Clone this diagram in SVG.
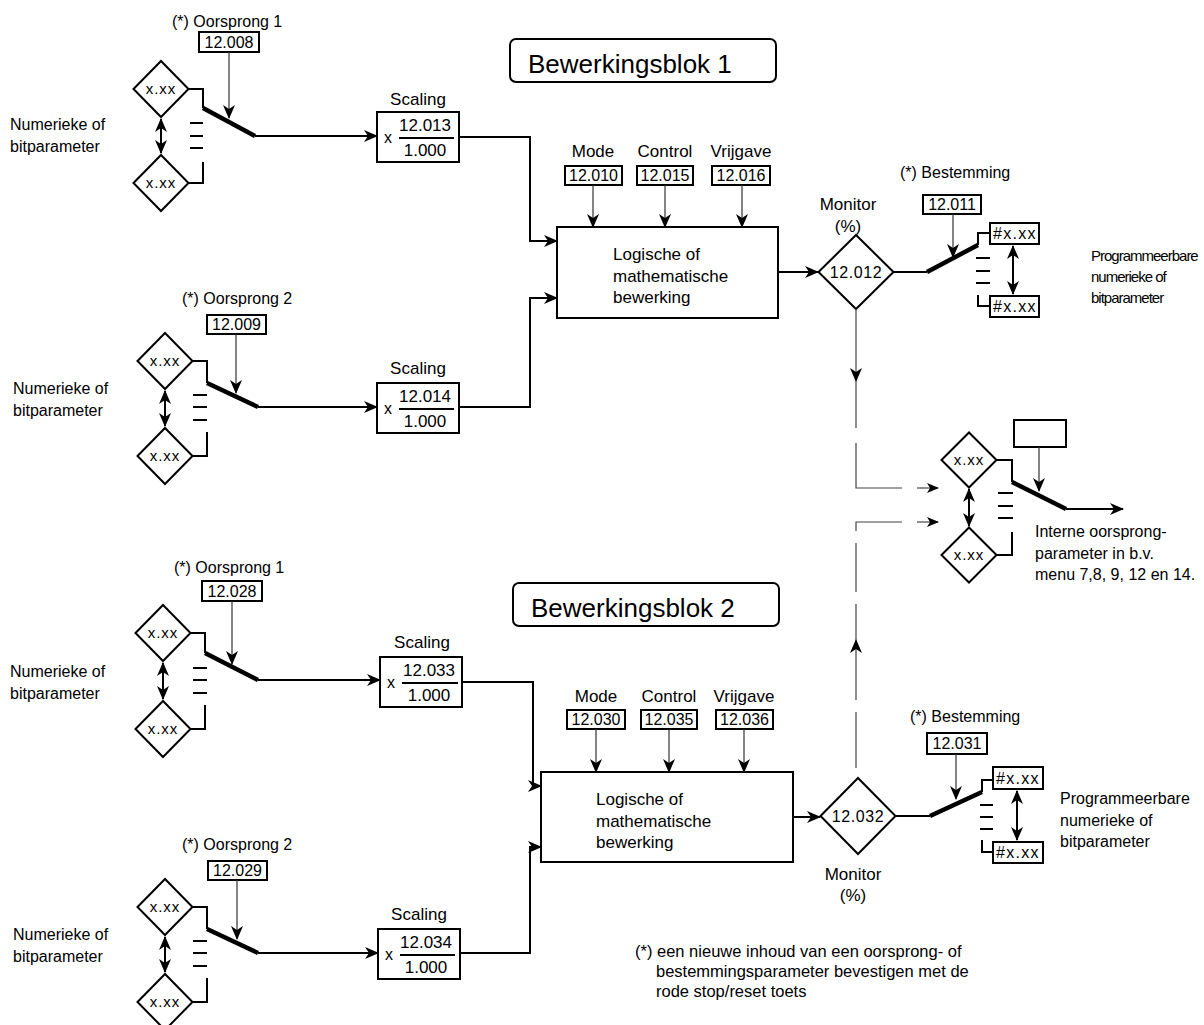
<svg xmlns="http://www.w3.org/2000/svg" width="1204" height="1025" viewBox="0 0 1204 1025">
<style>
.t{font-family:"Liberation Sans",Arial,Helvetica,sans-serif;font-size:16px;fill:#000}
.t17{font-size:17px}
.m{text-anchor:middle}
.dx{letter-spacing:1px}
.cn{font-size:15px;letter-spacing:-1px}
.box{fill:#fff;stroke:#000;stroke-width:2}
.ln{fill:none;stroke:#000;stroke-width:2}
.th{fill:none;stroke:#000;stroke-width:4.5}
.thin{fill:none;stroke:#333;stroke-width:1.2}
.dl{fill:none;stroke:#444;stroke-width:1.2}
</style>
<defs>
<marker id="a" viewBox="0 0 14 12" refX="13" refY="6" markerWidth="14" markerHeight="12" markerUnits="userSpaceOnUse" orient="auto-start-reverse"><path d="M0,0 L14,6 L0,12 L4,6 z" fill="#000"/></marker>
<marker id="b" viewBox="0 0 12 10" refX="11" refY="5" markerWidth="12" markerHeight="10" markerUnits="userSpaceOnUse" orient="auto-start-reverse"><path d="M0,0 L12,5 L0,10 L3,5 z" fill="#000"/></marker>
</defs>

<!-- titles -->
<g id="title1"><rect x="510" y="39" width="266" height="43" rx="6" class="box"/><text x="528" y="73" class="t" style="font-size:26px">Bewerkingsblok 1</text></g>
<g id="title2"><rect x="513" y="583" width="266" height="43" rx="6" class="box"/><text x="531" y="617" class="t" style="font-size:26px">Bewerkingsblok 2</text></g>

<!-- ===== Block 1 input 1 ===== -->
<g id="b1-src1">
<text x="172" y="27" class="t">(*) Oorsprong 1</text>
<rect x="199" y="32" width="60" height="20" class="box"/><text x="229" y="48" class="t m">12.008</text>
<polygon points="133.5,89 161,61 188.5,89 161,117" class="box"/><text x="161" y="94" class="t m dx" style="font-size:15px">x.xx</text>
<polygon points="133.5,183 161,155 188.5,183 161,211" class="box"/><text x="161" y="188" class="t m dx" style="font-size:15px">x.xx</text>
<text x="10" y="130" class="t">Numerieke of</text><text x="10" y="152" class="t">bitparameter</text>
<polyline points="188,89 203,89 203,108" class="ln"/>
<line x1="203" y1="108" x2="255" y2="136" class="th"/>
<polyline points="188,183 203,183 203,162" class="ln"/>
<path d="M190,123H203M190,136H203M190,148H203" class="ln"/>
</g>
<g id="b1-scal1">
<text x="418" y="105" class="t t17 m">Scaling</text>
<rect x="377" y="112" width="82" height="50" class="box"/>
<text x="384" y="143" class="t">x</text>
<text x="425" y="131" class="t t17 m">12.013</text>
<line x1="399" y1="138" x2="454" y2="138" class="ln"/>
<text x="425" y="156" class="t t17 m">1.000</text>
</g>

<!-- ===== Block 1 input 2 ===== -->
<g id="b1-src2">
<text x="182" y="304" class="t">(*) Oorsprong 2</text>
<rect x="207" y="315" width="59" height="19" class="box"/><text x="236.5" y="330" class="t m">12.009</text>
<polygon points="137.5,361 165,333 192.5,361 165,389" class="box"/><text x="165" y="366" class="t m dx" style="font-size:15px">x.xx</text>
<polygon points="137.5,456 165,428 192.5,456 165,484" class="box"/><text x="165" y="461" class="t m dx" style="font-size:15px">x.xx</text>
<text x="13" y="394" class="t">Numerieke of</text><text x="13" y="416" class="t">bitparameter</text>
<polyline points="193,361 207,361 207,383" class="ln"/>
<line x1="207" y1="383" x2="258" y2="407" class="th"/>
<polyline points="193,456 207,456 207,432" class="ln"/>
<path d="M193,395H207M193,407H207M193,420H207" class="ln"/>
</g>
<g id="b1-scal2">
<text x="418" y="374" class="t t17 m">Scaling</text>
<rect x="377" y="383" width="82" height="50" class="box"/>
<text x="384" y="414" class="t">x</text>
<text x="425" y="402" class="t t17 m">12.014</text>
<line x1="399" y1="409" x2="454" y2="409" class="ln"/>
<text x="425" y="427" class="t t17 m">1.000</text>
</g>

<!-- ===== Block 1 logic ===== -->
<g id="b1-logic">
<rect x="557" y="227" width="221" height="91" class="box"/>
<text x="613" y="260" class="t t17">Logische of</text>
<text x="613" y="282" class="t t17">mathematische</text>
<text x="613" y="303" class="t t17">bewerking</text>
</g>
<g id="b1-mode"><text x="593" y="157" class="t t17 m">Mode</text><rect x="565" y="166" width="57" height="19" class="box"/><text x="593.5" y="181" class="t m">12.010</text></g>
<g id="b1-ctrl"><text x="665" y="157" class="t t17 m">Control</text><rect x="637" y="166" width="56" height="19" class="box"/><text x="665" y="181" class="t m">12.015</text></g>
<g id="b1-vrij"><text x="741" y="157" class="t t17 m">Vrijgave</text><rect x="712" y="166" width="58" height="19" class="box"/><text x="741" y="181" class="t m">12.016</text></g>

<g id="b1-mon">
<text x="848" y="210" class="t t17 m">Monitor</text><text x="848" y="232" class="t t17 m">(%)</text>
<polygon points="818.5,272 856,235 893.5,272 856,309" class="box"/><text x="856" y="278" class="t m" style="letter-spacing:0.6px">12.012</text>
</g>

<g id="b1-dest">
<text x="900" y="178" class="t">(*) Bestemming</text>
<rect x="923" y="195" width="58" height="19" class="box"/><text x="952" y="210" class="t m">12.011</text>
<rect x="990" y="223" width="49" height="21" class="box"/><text x="993" y="239" class="t" style="letter-spacing:1.3px">#x.xx</text>
<rect x="990" y="296" width="49" height="21" class="box"/><text x="993" y="312" class="t" style="letter-spacing:1.3px">#x.xx</text>
<line x1="927" y1="272" x2="978" y2="245" class="th"/>
<polyline points="978,245 978,233 990,233" class="ln"/>
<polyline points="978,295 978,306 990,306" class="ln"/>
<path d="M976,258H990M976,271H990M976,283H990" class="ln"/>
<text x="1091" y="261" class="t cn">Programmeerbare</text>
<text x="1091" y="282" class="t cn">numerieke of</text>
<text x="1091" y="303" class="t cn">bitparameter</text>
</g>

<!-- ===== Internal source ===== -->
<g id="internal">
<rect x="1014" y="420" width="52" height="27" class="box"/>
<polygon points="941.5,460 969,432.5 996.5,460 969,487.5" class="box"/><text x="969" y="465" class="t m dx" style="font-size:15px">x.xx</text>
<polygon points="941.5,555 969,527.5 996.5,555 969,582.5" class="box"/><text x="969" y="560" class="t m dx" style="font-size:15px">x.xx</text>
<polyline points="997,460 1012,460 1012,482" class="ln"/>
<line x1="1012" y1="482" x2="1066" y2="509" class="th"/>
<polyline points="997,555 1012,555 1012,532" class="ln"/>
<path d="M998,493H1013M998,506H1013M998,518H1013" class="ln"/>
<text x="1035" y="537" class="t">Interne oorsprong-</text>
<text x="1035" y="559" class="t">parameter in b.v.</text>
<text x="1035" y="580" class="t">menu 7,8, 9, 12 en 14.</text>
</g>

<!-- ===== Block 2 input 1 ===== -->
<g id="b2-src1">
<text x="174" y="573" class="t">(*) Oorsprong 1</text>
<rect x="202" y="581" width="60" height="20" class="box"/><text x="232" y="597" class="t m">12.028</text>
<polygon points="135.5,633 163,605 190.5,633 163,661" class="box"/><text x="163" y="638" class="t m dx" style="font-size:15px">x.xx</text>
<polygon points="135.5,729 163,701 190.5,729 163,757" class="box"/><text x="163" y="734" class="t m dx" style="font-size:15px">x.xx</text>
<text x="10" y="677" class="t">Numerieke of</text><text x="10" y="699" class="t">bitparameter</text>
<polyline points="190,633 205,633 205,653" class="ln"/>
<line x1="205" y1="653" x2="258" y2="680" class="th"/>
<polyline points="190,729 205,729 205,705" class="ln"/>
<path d="M193,668H207M193,680H207M193,693H207" class="ln"/>
</g>
<g id="b2-scal1">
<text x="422" y="648" class="t t17 m">Scaling</text>
<rect x="380" y="657" width="82" height="50" class="box"/>
<text x="387" y="688" class="t">x</text>
<text x="429" y="676" class="t t17 m">12.033</text>
<line x1="402" y1="683" x2="458" y2="683" class="ln"/>
<text x="429" y="701" class="t t17 m">1.000</text>
</g>

<!-- ===== Block 2 input 2 ===== -->
<g id="b2-src2">
<text x="182" y="850" class="t">(*) Oorsprong 2</text>
<rect x="208" y="861" width="59" height="19" class="box"/><text x="237.5" y="876" class="t m">12.029</text>
<polygon points="137.5,907 165,879 192.5,907 165,935" class="box"/><text x="165" y="912" class="t m dx" style="font-size:15px">x.xx</text>
<polygon points="137.5,1002 165,974 192.5,1002 165,1030" class="box"/><text x="165" y="1007" class="t m dx" style="font-size:15px">x.xx</text>
<text x="13" y="940" class="t">Numerieke of</text><text x="13" y="962" class="t">bitparameter</text>
<polyline points="193,907 207,907 207,929" class="ln"/>
<line x1="207" y1="929" x2="258" y2="953" class="th"/>
<polyline points="193,1002 207,1002 207,978" class="ln"/>
<path d="M193,941H207M193,953H207M193,966H207" class="ln"/>
</g>
<g id="b2-scal2">
<text x="419" y="920" class="t t17 m">Scaling</text>
<rect x="378" y="929" width="82" height="50" class="box"/>
<text x="385" y="960" class="t">x</text>
<text x="426" y="948" class="t t17 m">12.034</text>
<line x1="400" y1="955" x2="455" y2="955" class="ln"/>
<text x="426" y="973" class="t t17 m">1.000</text>
</g>

<!-- ===== Block 2 logic ===== -->
<g id="b2-logic">
<rect x="541" y="772" width="252" height="90" class="box"/>
<text x="596" y="805" class="t t17">Logische of</text>
<text x="596" y="827" class="t t17">mathematische</text>
<text x="596" y="848" class="t t17">bewerking</text>
</g>
<g id="b2-mode"><text x="596" y="702" class="t t17 m">Mode</text><rect x="567" y="710" width="58" height="19" class="box"/><text x="596" y="725" class="t m">12.030</text></g>
<g id="b2-ctrl"><text x="669" y="702" class="t t17 m">Control</text><rect x="641" y="710" width="56" height="19" class="box"/><text x="669" y="725" class="t m">12.035</text></g>
<g id="b2-vrij"><text x="744" y="702" class="t t17 m">Vrijgave</text><rect x="716" y="710" width="57" height="19" class="box"/><text x="744.5" y="725" class="t m">12.036</text></g>

<g id="b2-mon">
<polygon points="820.5,816 858,778 895.5,816 858,854" class="box"/><text x="858" y="822" class="t m" style="letter-spacing:0.6px">12.032</text>
<text x="853" y="880" class="t t17 m">Monitor</text><text x="853" y="901" class="t t17 m">(%)</text>
</g>

<g id="b2-dest">
<text x="910" y="722" class="t">(*) Bestemming</text>
<rect x="927" y="733" width="60" height="21" class="box"/><text x="957" y="749" class="t m">12.031</text>
<rect x="993" y="767" width="50" height="22" class="box"/><text x="996" y="784" class="t" style="letter-spacing:1.3px">#x.xx</text>
<rect x="993" y="842" width="50" height="21" class="box"/><text x="996" y="858" class="t" style="letter-spacing:1.3px">#x.xx</text>
<line x1="930" y1="816" x2="982" y2="792" class="th"/>
<polyline points="982,792 982,780 993,780" class="ln"/>
<polyline points="982,840 982,852 993,852" class="ln"/>
<path d="M980,805H993M980,817H993M980,829H993" class="ln"/>
<text x="1060" y="804" class="t">Programmeerbare</text>
<text x="1060" y="826" class="t">numerieke of</text>
<text x="1060" y="847" class="t">bitparameter</text>
</g>

<g id="footnote">
<text x="635" y="957" class="t" style="font-size:16.5px">(*) een nieuwe inhoud van een oorsprong- of</text>
<text x="656" y="977" class="t" style="font-size:16.5px">bestemmingsparameter bevestigen met de</text>
<text x="656" y="997" class="t" style="font-size:16.5px">rode stop/reset toets</text>
</g>

<!-- ===== connectors ===== -->
<g id="connectors">
<!-- block 1 -->
<line x1="229" y1="52" x2="229" y2="118" class="thin" marker-end="url(#a)"/>
<line x1="161" y1="119" x2="161" y2="153" class="ln" marker-start="url(#a)" marker-end="url(#a)"/>
<line x1="255" y1="136" x2="377" y2="136" class="ln" marker-end="url(#a)"/>
<line x1="236" y1="334" x2="236" y2="393" class="thin" marker-end="url(#a)"/>
<line x1="165" y1="391" x2="165" y2="426" class="ln" marker-start="url(#a)" marker-end="url(#a)"/>
<line x1="258" y1="407" x2="377" y2="407" class="ln" marker-end="url(#a)"/>
<polyline points="459,137 530,137 530,241 557,241" class="ln" marker-end="url(#a)"/>
<polyline points="459,407 530,407 530,298 557,298" class="ln" marker-end="url(#a)"/>
<line x1="593" y1="185" x2="593" y2="227" class="thin" marker-end="url(#a)"/>
<line x1="665" y1="185" x2="665" y2="227" class="thin" marker-end="url(#a)"/>
<line x1="742" y1="185" x2="742" y2="227" class="thin" marker-end="url(#a)"/>
<line x1="778" y1="272" x2="818" y2="272" class="ln" marker-end="url(#a)"/>
<line x1="893" y1="272" x2="927" y2="272" class="ln"/>
<line x1="953" y1="214" x2="953" y2="257" class="thin" marker-end="url(#a)"/>
<line x1="1013" y1="246" x2="1013" y2="294" class="ln" marker-start="url(#a)" marker-end="url(#a)"/>
<!-- dashed monitor links -->
<line x1="856" y1="309" x2="856" y2="381" class="dl" marker-end="url(#a)"/>
<line x1="856" y1="381" x2="856" y2="428" class="dl"/>
<polyline points="856,443 856,488 902,488" class="dl"/>
<line x1="917" y1="488" x2="938" y2="488" class="dl" marker-end="url(#b)"/>
<polyline points="902,522 856,522 856,531" class="dl"/>
<line x1="917" y1="522" x2="938" y2="522" class="dl" marker-end="url(#b)"/>
<line x1="856" y1="543" x2="856" y2="592" class="dl"/>
<line x1="856" y1="700" x2="856" y2="640" class="dl" marker-end="url(#a)"/>
<line x1="856" y1="604" x2="856" y2="640" class="dl"/>
<line x1="856" y1="712" x2="856" y2="768" class="dl"/>
<!-- internal -->
<line x1="1039" y1="447" x2="1039" y2="491" class="thin" marker-end="url(#a)"/>
<line x1="969" y1="489" x2="969" y2="526" class="ln" marker-start="url(#a)" marker-end="url(#a)"/>
<line x1="1066" y1="509" x2="1123" y2="509" class="ln" marker-end="url(#a)"/>
<!-- block 2 -->
<line x1="232" y1="601" x2="232" y2="664" class="thin" marker-end="url(#a)"/>
<line x1="163" y1="663" x2="163" y2="699" class="ln" marker-start="url(#a)" marker-end="url(#a)"/>
<line x1="258" y1="680" x2="380" y2="680" class="ln" marker-end="url(#a)"/>
<line x1="237" y1="880" x2="237" y2="939" class="thin" marker-end="url(#a)"/>
<line x1="165" y1="937" x2="165" y2="972" class="ln" marker-start="url(#a)" marker-end="url(#a)"/>
<line x1="258" y1="953" x2="378" y2="953" class="ln" marker-end="url(#a)"/>
<polyline points="462,682 533,682 533,786 541,786" class="ln" marker-end="url(#a)"/>
<polyline points="460,953 530,953 530,847 541,847" class="ln" marker-end="url(#a)"/>
<line x1="596" y1="729" x2="596" y2="772" class="thin" marker-end="url(#a)"/>
<line x1="669" y1="729" x2="669" y2="772" class="thin" marker-end="url(#a)"/>
<line x1="744" y1="729" x2="744" y2="772" class="thin" marker-end="url(#a)"/>
<line x1="793" y1="817" x2="820" y2="817" class="ln" marker-end="url(#a)"/>
<line x1="895" y1="816" x2="930" y2="816" class="ln"/>
<line x1="956" y1="754" x2="956" y2="799" class="thin" marker-end="url(#a)"/>
<line x1="1017" y1="791" x2="1017" y2="840" class="ln" marker-start="url(#a)" marker-end="url(#a)"/>
</g>
</svg>
